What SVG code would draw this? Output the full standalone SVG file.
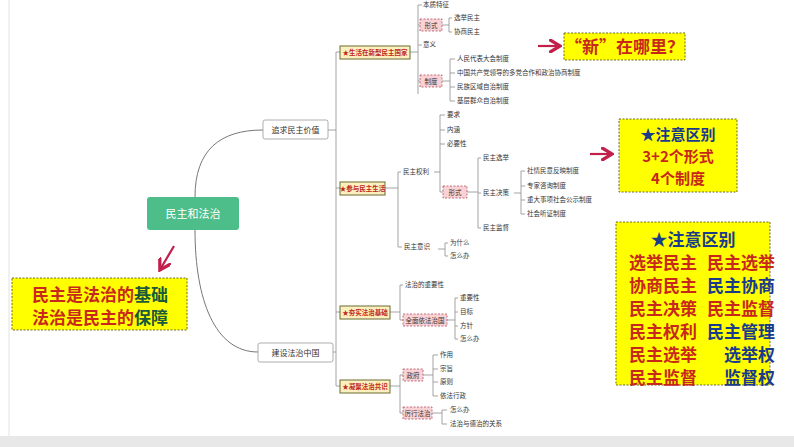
<svg xmlns="http://www.w3.org/2000/svg" width="794" height="447" viewBox="0 0 794 447">
<style>
text{font-family:"Noto Sans CJK SC","Noto Sans",sans-serif}
.s{font-size:6.5px;fill:#333}
.m{font-size:8px;fill:#333}
.ln{fill:none;stroke:#999;stroke-width:0.9}
.cv{fill:none;stroke:#777;stroke-width:1}
.pk{fill:#f9d2d6;stroke:#b05060;stroke-width:0.8;stroke-dasharray:2 1.5}
.l2{fill:#fdf0c0;stroke:#6a6a30;stroke-width:1}
.l2t{font-size:6.5px;fill:#c0281c;font-weight:bold}
.yb{fill:#ffff00;stroke:#6a6a30;stroke-width:1;stroke-dasharray:2 1.5}
.r{fill:#c8281c;font-weight:bold}
.b{fill:#1a3a8a;font-weight:bold}
.ar{stroke:#c0204a;stroke-width:2.2;fill:none}
</style>
<defs><marker id="ah" markerWidth="6" markerHeight="6" refX="4" refY="3" orient="auto"><path d="M0,0L5,3L0,6" fill="none" stroke="#c0204a" stroke-width="1.5"/></marker></defs>
<rect width="794" height="447" fill="#fff"/>
<rect x="0" y="436" width="794" height="11" fill="#e8e8e8"/>
<line x1="9" y1="0" x2="9" y2="436" stroke="#e2e2e2"/>
<g id="connectors">
<path class="cv" d="M195,197 C195,150 220,130 263,130"/>
<path class="cv" d="M195,230 C195,300 215,352 258,352"/>
<path class="ln" d="M328,130 H336 M336,52 V386 M336,52 H340 M336,188 H340 M333,352 H336 M336,312 H340 M336,386 H340"/>
<path class="ln" d="M410,52 H418 M418,5 V94 M418,5 H422 M418,25 H420 M418,45 H422 M418,81 H420"/>
<path class="ln" d="M442,25 H449 M449,18 V32 M449,18 H452 M449,32 H452"/>
<path class="ln" d="M442,81 H450 M450,59 V101 M450,59 H455 M450,73 H455 M450,87 H455 M450,101 H455"/>
<path class="ln" d="M385,188 H398 M398,172 V247 M398,172 H401 M398,247 H402"/>
<path class="ln" d="M434,172 H440 M440,115 V192 M440,115 H445 M440,130 H445 M440,144 H445 M440,192 H443"/>
<path class="ln" d="M467,192 H478 M478,158 V228 M478,158 H481 M478,193 H481 M478,228 H481"/>
<path class="ln" d="M514,193 H521 M521,171 V214 M521,171 H525 M521,186 H525 M521,200 H525 M521,214 H525"/>
<path class="ln" d="M438,249 H445 M445,243 V256 M445,243 H448 M445,256 H448"/>
<path class="ln" d="M390,312 H400 M400,285 V320 M400,285 H403 M400,320 H403"/>
<path class="ln" d="M447,320 H455 M455,298 V339 M455,298 H458 M455,312 H458 M455,326 H458 M455,339 H458"/>
<path class="ln" d="M390,386 H400 M400,375 V413 M400,375 H403 M400,413 H403"/>
<path class="ln" d="M423,375 H433 M433,355 V396 M433,355 H438 M433,369 H438 M433,382 H438 M433,396 H438"/>
<path class="ln" d="M432,413 H442 M442,410 V424 M442,410 H447 M442,424 H447"/>
</g>
<g id="root"><rect x="147" y="197" width="92" height="33" rx="3" fill="#4dbd8a"/><text x="193" y="218" font-size="11" fill="#fff" text-anchor="middle">民主和法治</text></g>
<g id="n-zhuiqiu"><rect x="263" y="120" width="65" height="19" rx="2" fill="#fff" stroke="#999" stroke-width="0.8"/><text x="295.5" y="133" class="m" text-anchor="middle">追求民主价值</text></g>
<g id="n-jianshe"><rect x="258" y="343" width="75" height="19" rx="2" fill="#fff" stroke="#999" stroke-width="0.8"/><text x="295.5" y="356" class="m" text-anchor="middle">建设法治中国</text></g>
<g id="n-shenghuo"><rect x="340" y="46" width="70" height="13" class="l2"/><text x="375" y="55" class="l2t" text-anchor="middle">★生活在新型民主国家</text></g>
<g id="n-canyu"><rect x="340" y="182" width="45" height="13" class="l2"/><text x="362.5" y="191" class="l2t" text-anchor="middle">★参与民主生活</text></g>
<g id="n-hangshi"><rect x="340" y="306" width="50" height="13" class="l2"/><text x="365" y="315" class="l2t" text-anchor="middle">★夯实法治基础</text></g>
<g id="n-ningju"><rect x="340" y="380" width="50" height="13" class="l2"/><text x="365" y="389" class="l2t" text-anchor="middle">★凝聚法治共识</text></g>
<g id="leaves1">
<text x="423" y="7" class="s">本质特征</text>
<rect x="420" y="19" width="22" height="12" class="pk"/><text x="431" y="27.5" class="s" text-anchor="middle">形式</text>
<text x="454" y="20" class="s">选举民主</text><text x="454" y="34" class="s">协商民主</text>
<text x="423" y="47" class="s">意义</text>
<rect x="420" y="75" width="22" height="12" class="pk"/><text x="431" y="83.5" class="s" text-anchor="middle">制度</text>
<text x="457" y="61" class="s">人民代表大会制度</text><text x="457" y="75" class="s">中国共产党领导的多党合作和政治协商制度</text><text x="457" y="89" class="s">民族区域自治制度</text><text x="457" y="103" class="s">基层群众自治制度</text>
</g>
<g id="leaves2">
<text x="403" y="174" class="s">民主权利</text>
<text x="447" y="117" class="s">要求</text><text x="447" y="132" class="s">内涵</text><text x="447" y="146" class="s">必要性</text>
<rect x="443" y="186" width="24" height="12" class="pk"/><text x="455" y="194.5" class="s" text-anchor="middle">形式</text>
<text x="483" y="160" class="s">民主选举</text><text x="483" y="195" class="s">民主决策</text><text x="483" y="230" class="s">民主监督</text>
<text x="527" y="173" class="s">社情民意反映制度</text><text x="527" y="188" class="s">专家咨询制度</text><text x="527" y="202" class="s">重大事项社会公示制度</text><text x="527" y="216" class="s">社会听证制度</text>
<text x="404" y="249" class="s">民主意识</text>
<text x="450" y="245" class="s">为什么</text><text x="450" y="258" class="s">怎么办</text>
</g>
<g id="leaves3">
<text x="405" y="287" class="s">法治的重要性</text>
<rect x="403" y="314" width="44" height="12" class="pk"/><text x="425" y="322.5" class="s" text-anchor="middle">全面依法治国</text>
<text x="460" y="300" class="s">重要性</text><text x="460" y="314" class="s">目标</text><text x="460" y="328" class="s">方针</text><text x="460" y="341" class="s">怎么办</text>
<rect x="403" y="369" width="20" height="12" class="pk"/><text x="413" y="377.5" class="s" text-anchor="middle">政府</text>
<text x="440" y="357" class="s">作用</text><text x="440" y="371" class="s">宗旨</text><text x="440" y="384" class="s">原则</text><text x="440" y="398" class="s">依法行政</text>
<rect x="403" y="407" width="29" height="12" class="pk"/><text x="417.5" y="415.5" class="s" text-anchor="middle">厉行法治</text>
<text x="450" y="412" class="s">怎么办</text><text x="450" y="426" class="s">法治与德治的关系</text>
</g>
<g id="note-xin">
<line x1="538" y1="46" x2="558" y2="46" class="ar" marker-end="url(#ah)"/>
<rect x="564" y="33" width="121" height="27" class="yb"/>
<text x="624.5" y="53" font-size="17" text-anchor="middle" class="r">“新”在哪里？</text>
</g>
<g id="note-1">
<line x1="590" y1="154" x2="610" y2="154" class="ar" marker-end="url(#ah)"/>
<rect x="619" y="119" width="118" height="73" class="yb"/>
<text x="678" y="140" font-size="15" text-anchor="middle" class="b">★注意区别</text>
<text x="678" y="162" font-size="15" text-anchor="middle" class="r">3+2个形式</text>
<text x="678" y="184" font-size="15" text-anchor="middle" class="r">4个制度</text>
</g>
<g id="note-2" font-size="17">
<rect x="616" y="222" width="154" height="163" class="yb"/>
<text x="693" y="246" text-anchor="middle" class="b">★注意区别</text>
<text x="629" y="269" class="r">选举民主</text><text x="707" y="269" class="r">民主选举</text>
<text x="629" y="292" class="r">协商民主</text><text x="707" y="292" class="b">民主协商</text>
<text x="629" y="315" class="r">民主决策</text><text x="707" y="315" class="r">民主监督</text>
<text x="629" y="338" class="r">民主权利</text><text x="707" y="338" class="b">民主管理</text>
<text x="629" y="361" class="r">民主选举</text><text x="724" y="361" class="b">选举权</text>
<text x="629" y="384" class="r">民主监督</text><text x="724" y="384" class="b">监督权</text>
</g>
<g id="note-left">
<line x1="174" y1="246" x2="161" y2="268" class="ar" marker-end="url(#ah)"/>
<rect x="12" y="278" width="175" height="52" class="yb"/>
<text x="32" y="301" font-size="17"><tspan class="r">民主是法治的</tspan><tspan class="b" style="fill:#1a5a3a">基础</tspan></text>
<text x="32" y="324" font-size="17"><tspan class="r">法治是民主的</tspan><tspan class="b" style="fill:#1a5a3a">保障</tspan></text>
</g>
</svg>
